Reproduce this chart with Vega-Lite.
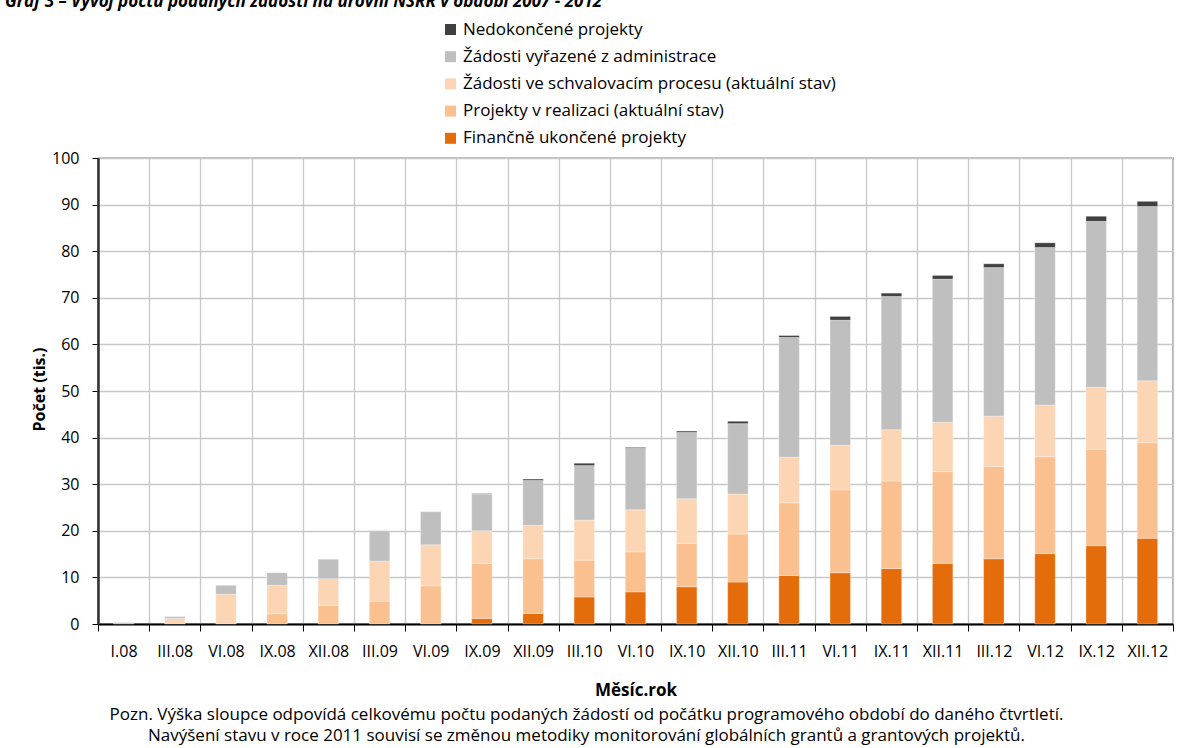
{
  "$schema": "https://vega.github.io/schema/vega-lite/v6.json",
  "width": 1075,
  "height": 466,
  "autosize": {"type": "none"},
  "padding": {"left": 98, "top": 158, "right": 30, "bottom": 124},
  "background": "white",
  "config": {
    "font": "Open Sans",
    "view": {"stroke": "#000000", "strokeWidth": 1.2}
  },
  "title": {
    "text": "Graf 3 – Vývoj počtu podaných žádostí na úrovni NSRR v období 2007 - 2012",
    "orient": "top",
    "anchor": "start",
    "frame": "group",
    "offset": 8,
    "dx": -93,
    "dy": 11,
    "baseline": "alphabetic",
    "fontSize": 17,
    "fontStyle": "italic",
    "fontWeight": "bold",
    "font": "Open Sans",
    "color": "#000000"
  },
  "data": {
    "values": [
      {"m": "I.08", "Finančně ukončené projekty": 0, "Projekty v realizaci (aktuální stav)": 0, "Žádosti ve schvalovacím procesu (aktuální stav)": 0, "Žádosti vyřazené z administrace": 0.3, "Nedokončené projekty": 0},
      {"m": "III.08", "Finančně ukončené projekty": 0, "Projekty v realizaci (aktuální stav)": 0, "Žádosti ve schvalovacím procesu (aktuální stav)": 1.2, "Žádosti vyřazené z administrace": 0.4, "Nedokončené projekty": 0},
      {"m": "VI.08", "Finančně ukončené projekty": 0, "Projekty v realizaci (aktuální stav)": 0, "Žádosti ve schvalovacím procesu (aktuální stav)": 6.4, "Žádosti vyřazené z administrace": 1.9, "Nedokončené projekty": 0},
      {"m": "IX.08", "Finančně ukončené projekty": 0, "Projekty v realizaci (aktuální stav)": 2.2, "Žádosti ve schvalovacím procesu (aktuální stav)": 6.1, "Žádosti vyřazené z administrace": 2.7, "Nedokončené projekty": 0},
      {"m": "XII.08", "Finančně ukončené projekty": 0, "Projekty v realizaci (aktuální stav)": 4.0, "Žádosti ve schvalovacím procesu (aktuální stav)": 5.7, "Žádosti vyřazené z administrace": 4.2, "Nedokončené projekty": 0},
      {"m": "III.09", "Finančně ukončené projekty": 0, "Projekty v realizaci (aktuální stav)": 4.9, "Žádosti ve schvalovacím procesu (aktuální stav)": 8.6, "Žádosti vyřazené z administrace": 6.5, "Nedokončené projekty": 0},
      {"m": "VI.09", "Finančně ukončené projekty": 0, "Projekty v realizaci (aktuální stav)": 8.2, "Žádosti ve schvalovacím procesu (aktuální stav)": 8.8, "Žádosti vyřazené z administrace": 7.1, "Nedokončené projekty": 0},
      {"m": "IX.09", "Finančně ukončené projekty": 1.2, "Projekty v realizaci (aktuální stav)": 11.8, "Žádosti ve schvalovacím procesu (aktuální stav)": 7.0, "Žádosti vyřazené z administrace": 7.9, "Nedokončené projekty": 0.1},
      {"m": "XII.09", "Finančně ukončené projekty": 2.25, "Projekty v realizaci (aktuální stav)": 11.75, "Žádosti ve schvalovacím procesu (aktuální stav)": 7.2, "Žádosti vyřazené z administrace": 9.6, "Nedokončené projekty": 0.3},
      {"m": "III.10", "Finančně ukončené projekty": 5.8, "Projekty v realizaci (aktuální stav)": 7.9, "Žádosti ve schvalovacím procesu (aktuální stav)": 8.6, "Žádosti vyřazené z administrace": 11.7, "Nedokončené projekty": 0.5},
      {"m": "VI.10", "Finančně ukončené projekty": 6.9, "Projekty v realizaci (aktuální stav)": 8.6, "Žádosti ve schvalovacím procesu (aktuální stav)": 9.0, "Žádosti vyřazené z administrace": 13.2, "Nedokončené projekty": 0.2},
      {"m": "IX.10", "Finančně ukončené projekty": 8.0, "Projekty v realizaci (aktuální stav)": 9.3, "Žádosti ve schvalovacím procesu (aktuální stav)": 9.6, "Žádosti vyřazené z administrace": 14.2, "Nedokončené projekty": 0.3},
      {"m": "XII.10", "Finančně ukončené projekty": 9.0, "Projekty v realizaci (aktuální stav)": 10.3, "Žádosti ve schvalovacím procesu (aktuální stav)": 8.6, "Žádosti vyřazené z administrace": 15.1, "Nedokončené projekty": 0.5},
      {"m": "III.11", "Finančně ukončené projekty": 10.4, "Projekty v realizaci (aktuální stav)": 15.6, "Žádosti ve schvalovacím procesu (aktuální stav)": 9.8, "Žádosti vyřazené z administrace": 25.7, "Nedokončené projekty": 0.4},
      {"m": "VI.11", "Finančně ukončené projekty": 11.0, "Projekty v realizaci (aktuální stav)": 17.8, "Žádosti ve schvalovacím procesu (aktuální stav)": 9.6, "Žádosti vyřazené z administrace": 26.8, "Nedokončené projekty": 0.8},
      {"m": "IX.11", "Finančně ukončené projekty": 11.9, "Projekty v realizaci (aktuální stav)": 18.8, "Žádosti ve schvalovacím procesu (aktuální stav)": 11.0, "Žádosti vyřazené z administrace": 28.6, "Nedokončené projekty": 0.7},
      {"m": "XII.11", "Finančně ukončené projekty": 13.0, "Projekty v realizaci (aktuální stav)": 19.7, "Žádosti ve schvalovacím procesu (aktuální stav)": 10.6, "Žádosti vyřazené z administrace": 30.7, "Nedokončené projekty": 0.8},
      {"m": "III.12", "Finančně ukončené projekty": 14.0, "Projekty v realizaci (aktuální stav)": 19.8, "Žádosti ve schvalovacím procesu (aktuální stav)": 10.8, "Žádosti vyřazené z administrace": 31.9, "Nedokončené projekty": 0.8},
      {"m": "VI.12", "Finančně ukončené projekty": 15.1, "Projekty v realizaci (aktuální stav)": 20.8, "Žádosti ve schvalovacím procesu (aktuální stav)": 11.1, "Žádosti vyřazené z administrace": 33.8, "Nedokončené projekty": 1.0},
      {"m": "IX.12", "Finančně ukončené projekty": 16.8, "Projekty v realizaci (aktuální stav)": 20.7, "Žádosti ve schvalovacím procesu (aktuální stav)": 13.3, "Žádosti vyřazené z administrace": 35.6, "Nedokončené projekty": 1.1},
      {"m": "XII.12", "Finančně ukončené projekty": 18.4, "Projekty v realizaci (aktuální stav)": 20.5, "Žádosti ve schvalovacím procesu (aktuální stav)": 13.3, "Žádosti vyřazené z administrace": 37.4, "Nedokončené projekty": 1.1}
    ]
  },
  "transform": [
    {"fold": ["Finančně ukončené projekty", "Projekty v realizaci (aktuální stav)", "Žádosti ve schvalovacím procesu (aktuální stav)", "Žádosti vyřazené z administrace", "Nedokončené projekty"], "as": ["s", "v"]},
    {"filter": "datum.v > 0"},
    {"calculate": "indexof(['Finančně ukončené projekty', 'Projekty v realizaci (aktuální stav)', 'Žádosti ve schvalovacím procesu (aktuální stav)', 'Žádosti vyřazené z administrace', 'Nedokončené projekty'], datum.s)", "as": "o"}
  ],
  "layer": [
    {
      "mark": {"type": "bar", "width": {"band": 0.4}, "stroke": "#ffffff", "strokeWidth": 0.6, "strokeOpacity": 0.5},
      "encoding": {
        "x": {
          "field": "m", "type": "nominal", "sort": null,
          "scale": {"paddingInner": 0, "paddingOuter": 0},
          "axis": {
            "orient": "bottom",
            "title": "Měsíc.rok", "titleFontWeight": "bold", "titleFontSize": 17, "titleColor": "#000000",
            "titleBaseline": "middle", "titleY": 66,
            "labelAngle": 0, "labelFontSize": 16, "labelColor": "#000000", "labelPadding": 12,
            "tickSize": 7, "tickColor": "#000000", "tickWidth": 1, "tickBand": "extent",
            "grid": true, "gridColor": "#c8c8c8", "gridWidth": 1.3,
            "domainColor": "#000000", "domainWidth": 2
          }
        },
        "y": {
          "field": "v", "type": "quantitative", "stack": "zero",
          "scale": {"domain": [0, 100], "nice": false},
          "axis": {
            "title": "Počet (tis.)", "titleFontWeight": "bold", "titleFontSize": 16, "titleColor": "#000000",
            "titleAngle": -90, "titleBaseline": "middle", "titleAlign": "center", "titleX": -59, "titleY": 231,
            "values": [0, 10, 20, 30, 40, 50, 60, 70, 80, 90, 100],
            "labelFontSize": 16, "labelColor": "#000000", "labelPadding": 13,
            "tickSize": 6, "tickColor": "#000000",
            "grid": true, "gridColor": "#c8c8c8", "gridWidth": 1.3,
            "domainColor": "#333333", "domainWidth": 2.5
          }
        },
        "color": {
          "field": "s", "type": "nominal",
          "scale": {
            "domain": ["Nedokončené projekty", "Žádosti vyřazené z administrace", "Žádosti ve schvalovacím procesu (aktuální stav)", "Projekty v realizaci (aktuální stav)", "Finančně ukončené projekty"],
            "range": ["#404040", "#bfbfbf", "#fcd5b5", "#fac090", "#e46c0a"]
          },
          "legend": {
            "orient": "none", "legendX": 344, "legendY": -137, "title": null,
            "symbolType": "square", "symbolSize": 121, "symbolStrokeWidth": 0,
            "labelFontSize": 17, "labelColor": "#000000", "labelOffset": 4, "labelLimit": 0,
            "rowPadding": 9.2, "padding": 0
          }
        },
        "order": {"field": "o", "type": "quantitative", "sort": "ascending"}
      }
    },
    {
      "mark": {"type": "rule", "strokeOpacity": 0},
      "encoding": {
        "x": {
          "field": "m", "type": "nominal", "sort": null,
          "axis": {
            "orient": "bottom", "domain": false, "ticks": false, "labels": false, "grid": false,
            "title": ["Pozn. Výška sloupce odpovídá celkovému počtu podaných žádostí od počátku programového období do daného čtvrtletí.", "Navýšení stavu v roce 2011 souvisí se změnou metodiky monitorování globálních grantů a grantových projektů."],
            "titleFontWeight": "normal", "titleFontSize": 17, "titleLineHeight": 21, "titleColor": "#000000",
            "titleBaseline": "middle", "titleX": 488, "titleY": 90, "titleLimit": 0
          }
        }
      }
    }
  ],
  "resolve": {"axis": {"x": "independent"}}
}
